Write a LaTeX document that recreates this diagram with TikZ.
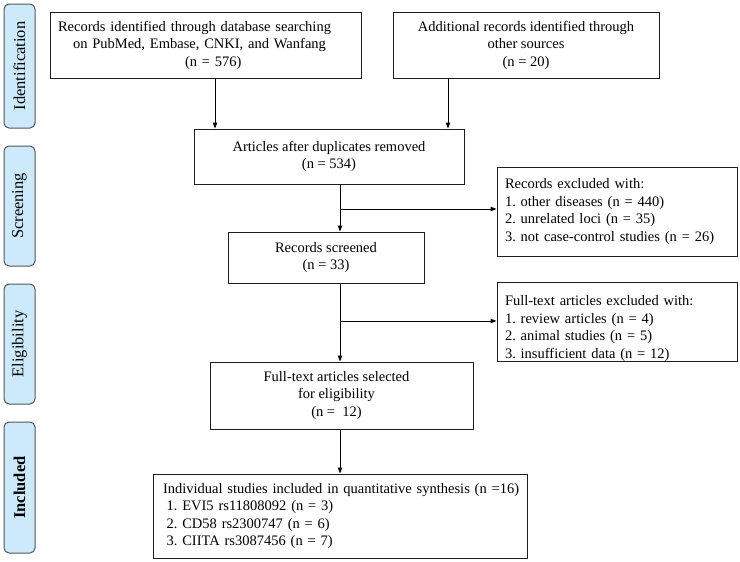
\documentclass[tikz,border=0pt]{standalone}
\usepackage{fontspec}
\setmainfont{Liberation Serif}
\usetikzlibrary{arrows.meta}
\definecolor{phasefill}{RGB}{205,233,252}
\definecolor{phasedraw}{RGB}{85,85,85}
\definecolor{boxdraw}{RGB}{30,30,30}
\frenchspacing
\begin{document}
\begin{tikzpicture}[x=1pt,y=-1pt,
  font=\fontsize{14.5}{17.5}\selectfont,
  box/.style={draw=boxdraw, line width=1pt, inner ysep=0pt, inner xsep=8pt, align=center},
  lbox/.style={box, align=left},
  phase/.style={draw=phasedraw, fill=phasefill, line width=1pt, rounded corners=5pt,
    rotate=90, minimum height=31pt, inner sep=0pt, font=\fontsize{16.5}{18}\selectfont},
  arr/.style={-{Triangle[length=6pt,width=4.5pt]}, line width=1pt}]
\useasboundingbox (0,0) rectangle (740,562);
% phase labels
\node[phase, minimum width=124pt] (pid) at (19.5,66) {Identification};
\node[phase, minimum width=120pt] (psc) at (19.5,206) {Screening};
\node[phase, minimum width=120pt] (pel) at (19.5,344) {Eligibility};
\node[phase, minimum width=131pt, font=\fontsize{16.5}{18}\selectfont\bfseries] (pin) at (19.5,487.5) {Included};
% boxes
\node[lbox, minimum width=311pt, minimum height=66pt, text width=295pt] (b1) at (205.5,45)
  {Records identified through database searching\\
   \hspace*{15pt}on PubMed, Embase, CNKI, and Wanfang\\
   \hspace*{127pt}(n = 576)};
\node[box, minimum width=266pt, minimum height=66pt] (b2) at (526,45)
  {Additional records identified through\\ other sources\\ (n = 20)};
\node[box, minimum width=270pt, minimum height=55pt] (b3) at (329,156.5)
  {Articles after duplicates removed\\ (n = 534)};
\node[box, minimum width=196pt, minimum height=51pt] (b4) at (326,257.5)
  {Records screened\\ (n = 33)};
\node[lbox, minimum width=240pt, minimum height=89pt, text width=224pt] (e1) at (617,211.5)
  {Records excluded with:\\ 1. other diseases (n = 440)\\ 2. unrelated loci (n = 35)\\ 3. not case-control studies (n = 26)};
\node[lbox, minimum width=240pt, minimum height=78pt, text width=224pt] (e2) at (617,322)
  {\rule{0pt}{23pt}Full-text articles excluded with:\\ 1. review articles (n = 4)\\ 2. animal studies (n = 5)\\ 3. insufficient data (n = 12)};
\node[box, minimum width=263pt, minimum height=67pt] (b5) at (341.5,395.5)
  {Full-text articles selected\rule{10pt}{0pt}\\ for eligibility\rule{10pt}{0pt}\\ (n =\ \ 12)\rule{10pt}{0pt}};
\node[lbox, minimum width=374pt, minimum height=84pt, text width=362pt, inner xsep=6pt] (b6) at (340,516)
  {\hspace*{4pt}Individual studies included in quantitative synthesis (n =16)\\
   \hspace*{7.6pt}1. EVI5 rs11808092 (n = 3)\\
   \hspace*{7.6pt}2. CD58 rs2300747 (n = 6)\\
   \hspace*{7.6pt}3. CIITA rs3087456 (n = 7)};
% connector coordinates
\coordinate (xL) at (215,0);
\coordinate (xR) at (448,0);
\coordinate (xM) at (340,0);
\coordinate (br1) at (340,209);
\coordinate (br2) at (340,321);
% connectors
\draw[arr] (b1.south -| xL) -- (b3.north -| xL);
\draw[arr] (b2.south -| xR) -- (b3.north -| xR);
\draw[arr] (b3.south -| xM) -- (b4.north -| xM);
\draw[arr] (br1) -- (br1 -| e1.west);
\draw[arr] (b4.south -| xM) -- (b5.north -| xM);
\draw[arr] (br2) -- (br2 -| e2.west);
\draw[arr] (b5.south -| xM) -- (b6.north -| xM);
\end{tikzpicture}
\end{document}
